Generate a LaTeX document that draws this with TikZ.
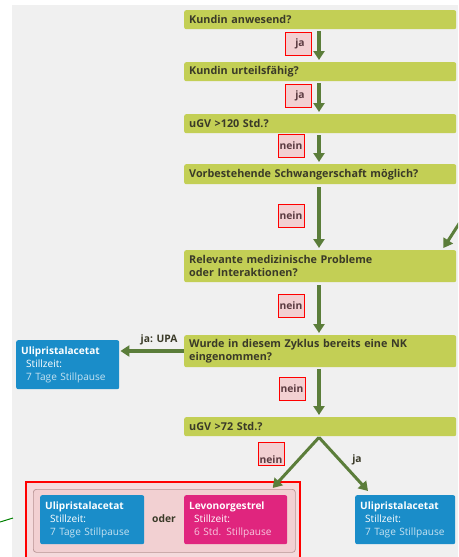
\documentclass[tikz,border=0pt]{standalone}
\usepackage{fontspec}
\setmainfont{Open Sans}
\usetikzlibrary{arrows.meta,calc}
\definecolor{qgreen}{HTML}{C3CF55}
\definecolor{agreen}{HTML}{5B7D3A}
\definecolor{bgc}{HTML}{F0F0F0}
\definecolor{qtext}{HTML}{3A3A28}
\definecolor{bblue}{HTML}{1A8DC9}
\definecolor{mag}{HTML}{E0257E}
\definecolor{labfill}{HTML}{F2D0D2}
\definecolor{labtext}{HTML}{5A3A40}
\definecolor{grpfill}{HTML}{F5DADC}
\definecolor{grpdraw}{HTML}{B89494}
\tikzset{
  qbox/.style={fill=qgreen, rounded corners=2pt, anchor=north west, minimum width=272pt,
    text width=262pt, inner xsep=5pt, align=left, text=qtext,
    font=\fontsize{10.8}{12.8}\selectfont\bfseries},
  garrow/.style={draw=agreen, line width=3.6pt, -{Triangle[length=9pt,width=11pt]}},
  lab/.style={draw=red, line width=0.9pt, fill=labfill, minimum width=26pt, minimum height=23pt,
    inner sep=0pt, text=labtext, font=\fontsize{10.3}{10}\selectfont\bfseries},
  plain/.style={text=qtext, font=\fontsize{10.3}{10}\selectfont\bfseries, inner sep=0pt},
  rbox/.style={rounded corners=2pt, anchor=north west, text=white, align=left,
    inner xsep=5pt, inner ysep=0pt, font=\fontsize{10.1}{12.8}\selectfont},
}
\newcommand{\rtext}[3]{\textbf{#1}\\\hspace*{5pt}#2\\\hspace*{5pt}{\color{white!75!#3}7 Tage Stillpause}}
\begin{document}
\begin{tikzpicture}[x=1pt,y=-1pt]
\useasboundingbox (0,0) rectangle (458,557);
\clip (0,0) rectangle (458,557);
\fill[bgc] (12,5) rectangle (458,557);

% questions
\node[qbox, minimum height=19pt] (q1) at (184,10) {Kundin anwesend?};
\node[qbox, minimum height=19pt] (q2) at (184,62) {Kundin urteilsfähig?};
\node[qbox, minimum height=19pt] (q3) at (184,114) {uGV >120 Std.?};
\node[qbox, minimum height=20pt] (q4) at (184,164) {Vorbestehende Schwangerschaft möglich?};
\node[qbox, minimum height=32pt] (q5) at (184,250) {Relevante medizinische Probleme\\oder Interaktionen?};
\node[qbox, minimum height=32pt] (q6) at (184,335) {Wurde in diesem Zyklus bereits eine NK\\eingenommen?};
\node[qbox, minimum height=19pt] (q7) at (184,417) {uGV >72 Std.?};

\coordinate (ax) at (319,0);
\draw[garrow, shorten <=2pt, shorten >=2pt] (q1.south -| ax) -- (q2.north -| ax);
\draw[garrow, shorten <=2pt, shorten >=2pt] (q2.south -| ax) -- (q3.north -| ax);
\draw[garrow, shorten <=2pt, shorten >=2pt] (q3.south -| ax) -- (q4.north -| ax);
\draw[garrow, shorten <=3pt, shorten >=2pt] (q4.south -| ax) -- (q5.north -| ax);
\draw[garrow, shorten <=3pt, shorten >=2pt] (q5.south -| ax) -- (q6.north -| ax);
\draw[garrow, shorten <=2pt, shorten >=2pt] (q6.south -| ax) -- (q7.north -| ax);

% labels
\node[lab] (l1) at (298,43.5) {\hspace*{4pt}ja};
\node[lab] (l2) at (298,96) {\hspace*{4pt}ja};
\node[lab] (l3) at (291,146) {nein};
\node[lab] (l4) at (291,216) {nein};
\node[lab] (l5) at (291,306) {nein};
\node[lab] (l6) at (292,388.5) {nein};

% incoming arrow from right
\coordinate (rin) at (464,216);
\draw[garrow, line width=3pt] (rin) -- ($(q5.north east)+(-13,-2)$);

% left UPA
\node[rbox, fill=bblue, minimum width=103pt, minimum height=49pt, text width=93pt] (u1) at (16,340)
  {\rtext{Ulipristalacetat}{Stillzeit:}{bblue}};
\draw[garrow, line width=3.4pt, shorten >=1pt] (q6.west |- 0,351) -- (u1.east |- 0,351);
\node[plain] (jupa) at (159,340) {ja: UPA};

% bottom group
\node[draw=red, line width=1.5pt, fill=grpfill, minimum width=274pt, minimum height=80pt,
  anchor=north west, inner sep=0pt] (outer) at (25,481) {};
\node[draw=grpdraw, line width=0.7pt, fill=labfill, rounded corners=3pt, minimum width=262pt,
  minimum height=63pt, anchor=north west, inner sep=0pt] (grp) at (33,489) {};
\node[rbox, fill=bblue, minimum width=104pt, minimum height=49pt, text width=94pt] (u2) at (40,495)
  {\rtext{Ulipristalacetat}{Stillzeit:}{bblue}};
\node[plain] (oder) at (164,519) {oder};
\node[rbox, fill=mag, minimum width=103pt, minimum height=49pt, text width=93pt] (lev) at (184,495)
  {\textbf{Levonorgestrel}\\\hspace*{5pt}Stillzeit:\\\hspace*{5pt}{\color{white!75!mag}6 Std. Stillpause}};
\node[rbox, fill=bblue, minimum width=100pt, minimum height=49pt, text width=90pt] (u3) at (355,495)
  {\rtext{Ulipristalacetat}{Stillzeit:}{bblue}};

\coordinate (split) at ($(q7.south -| ax)+(0,1)$);
\draw[garrow, line width=3pt, shorten >=0pt] (split) -- ($(grp.north east)+(-23,-1)$);
\draw[garrow, line width=3pt] (split) -- ($(u3.north west)+(13,-4)$);
\node[lab, minimum height=23pt] (l7) at (271,454) {};
\node[plain, text=labtext] (l7t) at (271,460) {nein};
\node[plain] (jb) at (357,460) {ja};

% green fragment left
\coordinate (gf1) at (0,522);
\coordinate (gf2) at (13,518);
\draw[draw=green!50!black, line width=1pt] (gf1) -- (gf2);
\end{tikzpicture}
\end{document}
